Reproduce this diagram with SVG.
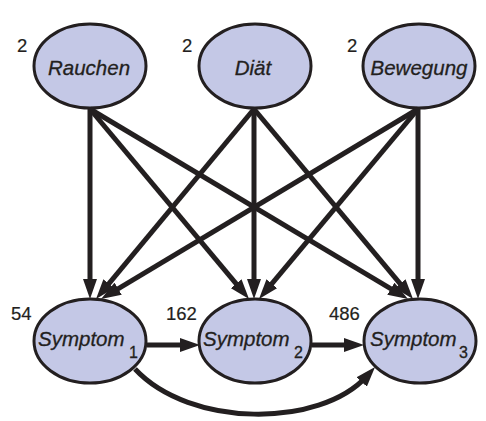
<svg xmlns="http://www.w3.org/2000/svg" width="486" height="421" viewBox="0 0 486 421">
<style>
.node ellipse{fill:#c4c8e6;stroke:#231f20;stroke-width:3}
.lbl{font-family:"Liberation Sans",Arial,sans-serif;font-style:italic;font-size:20.5px;fill:#231f20;stroke:#231f20;stroke-width:0.3}
.sub{font-family:"Liberation Sans",Arial,sans-serif;font-size:16px;fill:#231f20}
.num{font-family:"Liberation Sans",Arial,sans-serif;font-size:18.5px;fill:#231f20;stroke:#231f20;stroke-width:0.2}
.edge{stroke:#231f20;stroke-width:5;fill:none;marker-end:url(#arr)}
</style>
<defs>
<marker id="arr" markerUnits="userSpaceOnUse" markerWidth="20" markerHeight="14" refX="8" refY="7" orient="auto" viewBox="0 0 20 14">
<path d="M0,0 L20,7 L0,14 z" fill="#231f20"/>
</marker>
</defs>
<rect width="486" height="421" fill="#ffffff"/>
<g id="rauchen" class="node">
<ellipse cx="90" cy="66" rx="56" ry="42"/>
<text class="lbl" x="89" y="75" text-anchor="middle">Rauchen</text>
<text class="num" x="17" y="52">2</text>
</g>
<g id="diaet" class="node">
<ellipse cx="255" cy="66" rx="56" ry="42"/>
<text class="lbl" x="253" y="75" text-anchor="middle">Diät</text>
<text class="num" x="182" y="52">2</text>
</g>
<g id="bewegung" class="node">
<ellipse cx="419" cy="66" rx="56" ry="42"/>
<text class="lbl" x="419" y="75" text-anchor="middle">Bewegung</text>
<text class="num" x="347" y="52">2</text>
</g>
<g id="symptom1" class="node">
<ellipse cx="90" cy="341" rx="56" ry="42"/>
<text class="lbl" x="38" y="346">Symptom<tspan class="sub" x="129" y="358" font-style="normal">1</tspan></text>
<text class="num" x="11" y="320">54</text>
</g>
<g id="symptom2" class="node">
<ellipse cx="255" cy="341" rx="56" ry="42"/>
<text class="lbl" x="203" y="346">Symptom<tspan class="sub" x="294" y="358" font-style="normal">2</tspan></text>
<text class="num" x="166" y="320">162</text>
</g>
<g id="symptom3" class="node">
<ellipse cx="420" cy="341" rx="56" ry="42"/>
<text class="lbl" x="370" y="346">Symptom<tspan class="sub" x="459" y="358" font-style="normal">3</tspan></text>
<text class="num" x="329" y="320">486</text>
</g>
<g id="connectors">
<path class="edge" d="M90,109 L90,287"/>
<path class="edge" d="M90,109 L241.3,289.8"/>
<path class="edge" d="M90,109 L397.7,292.8"/>
<path class="edge" d="M254,109 L103.7,289.8"/>
<path class="edge" d="M254,109 L254,287"/>
<path class="edge" d="M254,109 L405.3,289.8"/>
<path class="edge" d="M418,109 L111.3,292.8"/>
<path class="edge" d="M418,109 L266.7,289.8"/>
<path class="edge" d="M418,109 L418,287"/>
<path class="edge" d="M147,345 L188,345"/>
<path class="edge" d="M312,345 L352,345"/>
<path class="edge" d="M135,369 C190,428 320,428 367,376"/>
</g>
</svg>
